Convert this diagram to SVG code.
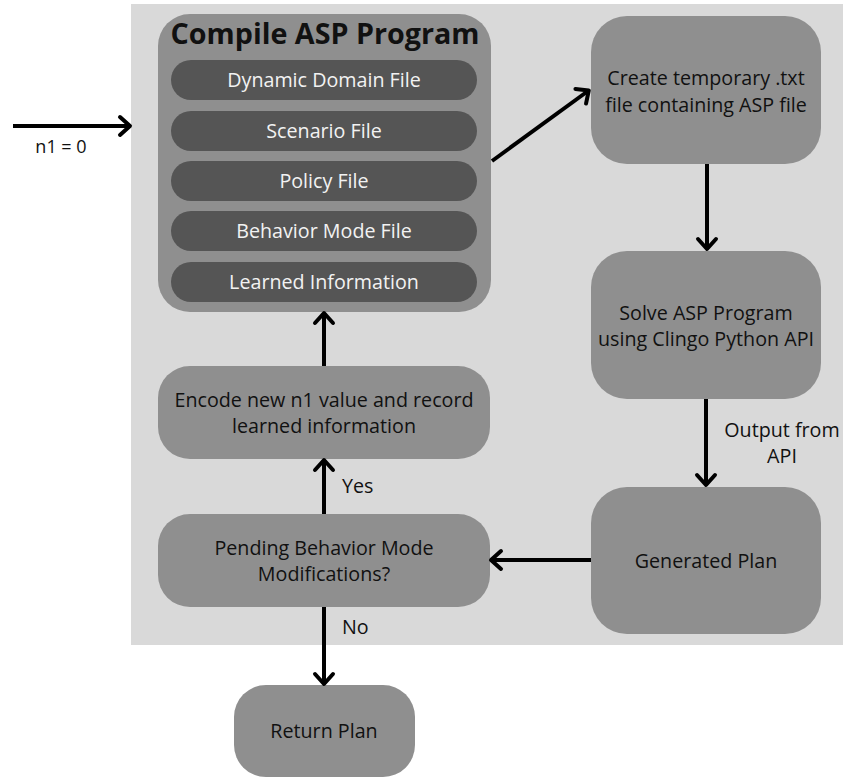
<svg xmlns="http://www.w3.org/2000/svg" width="843" height="778" viewBox="0 0 843 778">
<style>
.box{fill:#8f8f8f}
.pill{fill:#555555}
.t{font-family:"Open Sans","Liberation Sans",sans-serif;font-size:19.7px;fill:#111;text-anchor:middle}
.pt{font-family:"Open Sans","Liberation Sans",sans-serif;font-size:19.7px;fill:#f2f2f2;text-anchor:middle}
.title{font-family:"Open Sans","Liberation Sans",sans-serif;font-size:28.7px;font-weight:bold;fill:#111;text-anchor:middle}
.c{stroke:#000;stroke-width:4;fill:none}
</style>
<defs>
<marker id="ah" markerUnits="userSpaceOnUse" markerWidth="20" markerHeight="24" refX="12" refY="12" orient="auto" viewBox="0 0 20 24">
<polyline points="3,3 13,12 3,21" fill="none" stroke="#000" stroke-width="4" stroke-linecap="round" stroke-linejoin="round"/>
</marker>
</defs>
<rect width="843" height="778" fill="#fff"/>
<rect x="131" y="4" width="712" height="641" fill="#d9d9d9"/>
<g id="compile">
<rect class="box" x="158" y="14" width="333" height="298" rx="32"/>
<text class="title" x="325" y="44">Compile ASP Program</text>
</g>
<g id="dynamic"><rect class="pill" x="171" y="60" width="306" height="40" rx="20"/><text class="pt" x="324" y="87">Dynamic Domain File</text></g>
<g id="scenario"><rect class="pill" x="171" y="111" width="306" height="40" rx="20"/><text class="pt" x="324" y="138">Scenario File</text></g>
<g id="policy"><rect class="pill" x="171" y="161" width="306" height="40" rx="20"/><text class="pt" x="324" y="188">Policy File</text></g>
<g id="behavior"><rect class="pill" x="171" y="211" width="306" height="40" rx="20"/><text class="pt" x="324" y="238">Behavior Mode File</text></g>
<g id="learned"><rect class="pill" x="171" y="262" width="306" height="40" rx="20"/><text class="pt" x="324" y="289">Learned Information</text></g>
<g id="create"><rect class="box" x="591" y="16" width="230" height="148" rx="36"/><text class="t" x="706" y="85">Create temporary .txt</text><text class="t" x="706" y="112">file containing ASP file</text></g>
<g id="solve"><rect class="box" x="591" y="251" width="230" height="148" rx="36"/><text class="t" x="706" y="320">Solve ASP Program</text><text class="t" x="706" y="346">using Clingo Python API</text></g>
<g id="generated"><rect class="box" x="591" y="487" width="230" height="147" rx="36"/><text class="t" x="706" y="568">Generated Plan</text></g>
<g id="encode"><rect class="box" x="158" y="366" width="332" height="93" rx="32"/><text class="t" x="324" y="407">Encode new n1 value and record</text><text class="t" x="324" y="433">learned information</text></g>
<g id="pending"><rect class="box" x="158" y="514" width="332" height="93" rx="32"/><text class="t" x="324" y="555">Pending Behavior Mode</text><text class="t" x="324" y="581">Modifications?</text></g>
<g id="return"><rect class="box" x="234" y="685" width="181" height="92" rx="32"/><text class="t" x="324" y="738">Return Plan</text></g>
<g id="connectors">
<line class="c" x1="13" y1="126" x2="129" y2="126" marker-end="url(#ah)"/>
<text class="t" x="61" y="153" style="font-size:18px">n1 = 0</text>
<line class="c" x1="492" y1="161" x2="588" y2="91" marker-end="url(#ah)"/>
<line class="c" x1="707" y1="164" x2="707" y2="248" marker-end="url(#ah)"/>
<line class="c" x1="706" y1="399" x2="706" y2="484" marker-end="url(#ah)"/>
<text class="t" x="782" y="437">Output from</text>
<text class="t" x="782" y="463">API</text>
<line class="c" x1="591" y1="560" x2="492" y2="560" marker-end="url(#ah)"/>
<line class="c" x1="324" y1="514" x2="324" y2="461" marker-end="url(#ah)"/>
<text class="t" x="342" y="493" style="text-anchor:start">Yes</text>
<line class="c" x1="324" y1="366" x2="324" y2="314" marker-end="url(#ah)"/>
<line class="c" x1="324" y1="607" x2="324" y2="683" marker-end="url(#ah)"/>
<text class="t" x="342" y="634" style="text-anchor:start">No</text>
</g>
</svg>
